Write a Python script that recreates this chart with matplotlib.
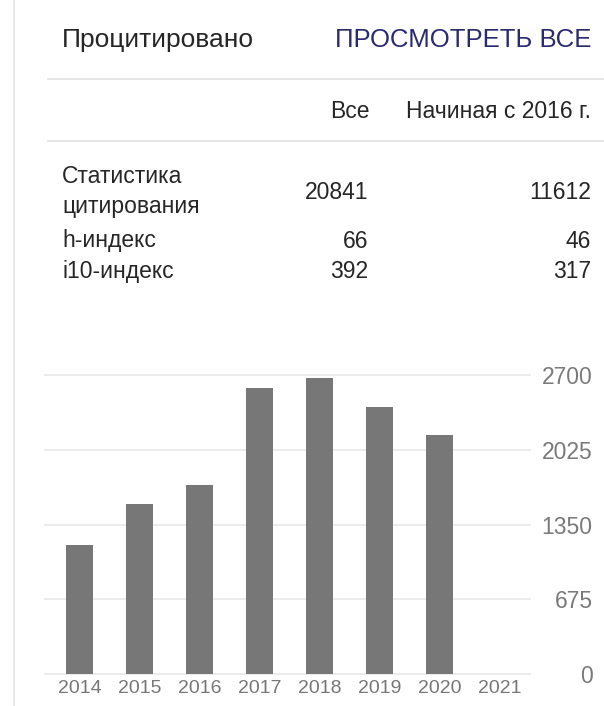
import matplotlib
matplotlib.use("Agg")
import matplotlib.pyplot as plt
from matplotlib.lines import Line2D

plt.rcParams['font.family'] = ['Liberation Sans', 'DejaVu Sans']

years = ["2014", "2015", "2016", "2017", "2018", "2019", "2020", "2021"]
citations = [1161, 1533, 1704, 2585, 2670, 2413, 2160, 0]
yticks = [0, 675, 1350, 2025, 2700]

header_left = "Процитировано"
header_right = "ПРОСМОТРЕТЬ ВСЕ"
col_headers = ["Все", "Начиная с 2016 г."]
row_labels = [["Статистика", "цитирования"], ["h-индекс"], ["i10-индекс"]]
all_vals = ["20841", "66", "392"]
since_vals = ["11612", "46", "317"]

W, H = 604, 706
fig = plt.figure(figsize=(W / 100, H / 100), dpi=100)
fig.patch.set_facecolor("white")

def fx(px):
    return px / W

def fy(py):
    return 1 - py / H

txt = "#262626"
body = 16.5
# left border
fig.add_artist(Line2D([fx(14), fx(14)], [0, 1], color="#e8e8e8", lw=1.5))
# header
fig.text(fx(62), fy(47), header_left, fontsize=19, color=txt, ha="left", va="baseline")
fig.text(fx(591), fy(47), header_right, fontsize=18.5, color="#2a2a70", ha="right", va="baseline")
fig.add_artist(Line2D([fx(48), 1], [fy(79), fy(79)], color="#e2e2e2", lw=1.2))
fig.text(fx(370), fy(118), col_headers[0], fontsize=body, color=txt, ha="right", va="baseline")
fig.text(fx(591), fy(118), col_headers[1], fontsize=body, color=txt, ha="right", va="baseline")
fig.add_artist(Line2D([fx(48), 1], [fy(141), fy(141)], color="#e2e2e2", lw=1.2))

label_base = [183, 247, 278]
value_base = [199, 248, 278]
line_step = 30
for lines, a, s, yl, yv in zip(row_labels, all_vals, since_vals, label_base, value_base):
    for k, ln in enumerate(lines):
        fig.text(fx(62), fy(yl + k * line_step), ln, fontsize=body, color=txt,
                 ha="left", va="baseline")
    fig.text(fx(368), fy(yv), a, fontsize=body, color=txt, ha="right", va="baseline")
    fig.text(fx(591), fy(yv), s, fontsize=body, color=txt, ha="right", va="baseline")

# chart
x0, x1 = 45, 530
ytop, ybot = 375, 674
ax = fig.add_axes([fx(x0), fy(ybot), (x1 - x0) / W, (ybot - ytop) / H])
xs = list(range(len(years)))
ax.bar(xs, citations, width=0.45, color="#777777", zorder=3)
ax.set_xlim(-0.575, 7.508)
ax.set_ylim(0, 2700)
for t in yticks:
    ax.axhline(t, color="#ececec", lw=1.5, zorder=1, clip_on=False)
for s in ax.spines.values():
    s.set_visible(False)
ax.set_xticks(xs)
ax.set_xticklabels(years)
ax.set_yticks(yticks)
ax.set_yticklabels([str(t) for t in yticks])
ax.yaxis.tick_right()
ax.tick_params(axis="x", length=0, pad=4, labelsize=14, labelcolor="#777777")
ax.tick_params(axis="y", length=0, pad=45, labelsize=16.5, labelcolor="#7a7a7a")
for lab in ax.get_yticklabels():
    lab.set_ha("right")
ax.set_facecolor("none")

fig.savefig("out.png", dpi=100, facecolor="white")
